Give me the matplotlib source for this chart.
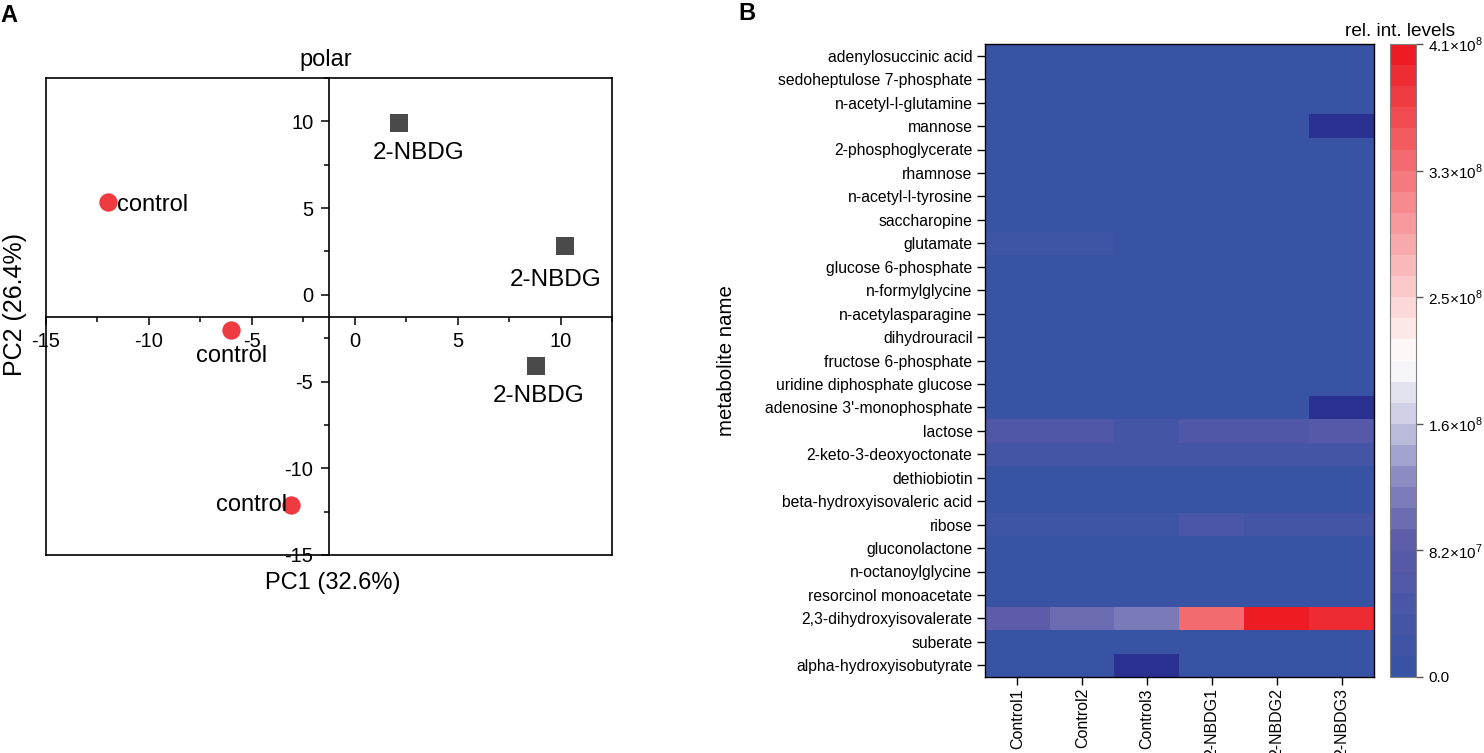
import numpy as np
import matplotlib
matplotlib.use('Agg')
import matplotlib.pyplot as plt
from matplotlib.colors import LinearSegmentedColormap

plt.rcParams['font.family'] = ['Liberation Sans', 'DejaVu Sans']
plt.rcParams['mathtext.fontset'] = 'custom'
plt.rcParams['mathtext.rm'] = 'Liberation Sans'
plt.rcParams['axes.unicode_minus'] = False

# 面板 A 的数据
control_pc1 = [-12.0, -6.0, -3.1]
control_pc2 = [5.35, -2.0, -12.1]
nbdg_pc1 = [2.15, 10.2, 8.8]
nbdg_pc2 = [9.93, 2.83, -4.1]

# 面板 B 的数据，单位 1e8，nan 为缺失值
samples = ['Control1', 'Control2', 'Control3', '2-NBDG1', '2-NBDG2', '2-NBDG3']
metabolites = [
    'adenylosuccinic acid', 'sedoheptulose 7-phosphate', 'n-acetyl-l-glutamine',
    'mannose', '2-phosphoglycerate', 'rhamnose', 'n-acetyl-l-tyrosine',
    'saccharopine', 'glutamate', 'glucose 6-phosphate', 'n-formylglycine',
    'n-acetylasparagine', 'dihydrouracil', 'fructose 6-phosphate',
    'uridine diphosphate glucose', "adenosine 3'-monophosphate", 'lactose',
    '2-keto-3-deoxyoctonate', 'dethiobiotin', 'beta-hydroxyisovaleric acid',
    'ribose', 'gluconolactone', 'n-octanoylglycine', 'resorcinol monoacetate',
    '2,3-dihydroxyisovalerate', 'suberate', 'alpha-hydroxyisobutyrate',
]
levels = [
    [0.01, 0.01, 0.01, 0.01, 0.01, 0.01],
    [0.02, 0.02, 0.02, 0.02, 0.02, 0.02],
    [0.01, 0.01, 0.01, 0.02, 0.02, 0.02],
    [0.02, 0.02, 0.02, 0.02, 0.02, np.nan],
    [0.01, 0.01, 0.01, 0.01, 0.01, 0.01],
    [0.02, 0.02, 0.02, 0.02, 0.02, 0.02],
    [0.01, 0.01, 0.01, 0.01, 0.01, 0.01],
    [0.02, 0.02, 0.02, 0.02, 0.02, 0.02],
    [0.16, 0.16, 0.05, 0.05, 0.05, 0.05],
    [0.02, 0.02, 0.02, 0.02, 0.02, 0.02],
    [0.01, 0.01, 0.01, 0.01, 0.01, 0.01],
    [0.01, 0.01, 0.01, 0.01, 0.01, 0.01],
    [0.02, 0.02, 0.02, 0.02, 0.02, 0.02],
    [0.02, 0.02, 0.02, 0.02, 0.02, 0.02],
    [0.02, 0.02, 0.02, 0.02, 0.02, 0.02],
    [0.03, 0.03, 0.03, 0.03, 0.03, np.nan],
    [0.55, 0.55, 0.40, 0.55, 0.55, 0.70],
    [0.30, 0.30, 0.30, 0.40, 0.40, 0.40],
    [0.03, 0.03, 0.03, 0.03, 0.03, 0.03],
    [0.02, 0.02, 0.02, 0.02, 0.02, 0.02],
    [0.16, 0.16, 0.16, 0.50, 0.40, 0.30],
    [0.02, 0.02, 0.02, 0.02, 0.02, 0.02],
    [0.01, 0.01, 0.01, 0.01, 0.01, 0.01],
    [0.02, 0.02, 0.02, 0.02, 0.02, 0.02],
    [0.85, 1.00, 1.15, 3.35, 4.05, 3.85],
    [0.02, 0.02, 0.02, 0.02, 0.02, 0.02],
    [0.02, 0.02, np.nan, 0.02, 0.02, 0.02],
]
cbar_ticks = [0.0, 0.82, 1.64, 2.46, 3.28, 4.1]
cbar_labels = ['0.0', r'8.2×10$^{7}$', r'1.6×10$^{8}$', r'2.5×10$^{8}$',
               r'3.3×10$^{8}$', r'4.1×10$^{8}$']

W, H = 1484, 753
fig = plt.figure(figsize=(W / 100, H / 100), dpi=100)


def px_axes(x0, y0, x1, y1):
    # 用像素坐标建坐标轴（原点在左上角）
    return fig.add_axes([x0 / W, 1 - y1 / H, (x1 - x0) / W, (y1 - y0) / H])


# 面板 A：PCA
ax = px_axes(46, 78, 612, 555)
ax.set_xlim(-15, 12.5)
ax.set_ylim(-15, 12.5)
ax.spines['left'].set_position(('data', -1.27))
ax.spines['bottom'].set_position(('data', -1.27))
ax.axvline(-15, color='black', lw=1.2, clip_on=False)
ax.axhline(-15, color='black', lw=1.2, clip_on=False)
for s in ax.spines.values():
    s.set_linewidth(1.2)
ax.set_xticks([-15, -10, -5, 0, 5, 10])
ax.set_xticks([-12.5, -7.5, -2.5, 2.5, 7.5, 12.5], minor=True)
ax.set_yticks([-15, -10, -5, 0, 5, 10])
ax.set_yticks([-12.5, -7.5, -2.5, 2.5, 7.5, 12.5], minor=True)
ax.tick_params(which='major', length=6, width=1.1, labelsize=14.5, pad=5)
ax.tick_params(which='minor', length=3.5, width=1.1)
ax.scatter(control_pc1, control_pc2, s=175, color='#ee3b42', zorder=3, linewidths=0)
ax.scatter(nbdg_pc1, nbdg_pc2, s=165, marker='s', color='#4a4a4a', zorder=3, linewidths=0)
ax.text(-11.55, 5.2, 'control', fontsize=17, ha='left', va='center')
ax.text(-6.0, -3.5, 'control', fontsize=17, ha='center', va='center')
ax.text(-3.3, -12.1, 'control', fontsize=17, ha='right', va='center')
ax.text(3.1, 8.2, '2-NBDG', fontsize=17.5, ha='center', va='center')
ax.text(9.78, 0.85, '2-NBDG', fontsize=17.5, ha='center', va='center')
ax.text(8.93, -5.85, '2-NBDG', fontsize=17.5, ha='center', va='center')

fig.text(326 / W, 1 - 60 / H, 'polar', fontsize=17, ha='center', va='center')
fig.text(333 / W, 1 - 583 / H, 'PC1 (32.6%)', fontsize=17, ha='center', va='center')
fig.text(15 / W, 1 - 304 / H, 'PC2 (26.4%)', fontsize=18, rotation=90, ha='center', va='center')

# 面板 B：热图
cmap = LinearSegmentedColormap.from_list(
    'bwr_steps',
    [(0, '#3953a4'), (0.2, '#5a5aa8'), (0.3, '#8585bf'), (0.4, '#c8c8e2'),
     (0.5, '#ffffff'), (1, '#ed1c24')],
    N=30)
cmap.set_bad('#2b3190')
ax2 = px_axes(985, 44, 1374, 677)
im = ax2.imshow(np.array(levels), cmap=cmap, vmin=0, vmax=4.1, aspect='auto',
                interpolation='nearest')
ax2.set_xticks(range(len(samples)))
ax2.set_xticklabels(samples, rotation=90, fontsize=11.5)
ax2.set_yticks(range(len(metabolites)))
ax2.set_yticklabels(metabolites, fontsize=11.3)
ax2.tick_params(length=6, width=1.0, pad=3)
ax2.tick_params(axis='x', pad=2)
for s in ax2.spines.values():
    s.set_linewidth(1.0)
fig.text(727 / W, 1 - 361 / H, 'metabolite name', fontsize=14.7, rotation=90, ha='center', va='center')

cax = px_axes(1390, 44, 1416, 677)
cb = fig.colorbar(im, cax=cax)
cb.set_ticks(cbar_ticks)
cb.set_ticklabels(cbar_labels)
cb.ax.tick_params(length=5, width=1.0, labelsize=11, pad=4, color='#555555')
cb.outline.set_edgecolor('#808080')
fig.text(1400 / W, 1 - 31 / H, 'rel. int. levels', fontsize=13.7, ha='center', va='center')

fig.text(0 / W, 1 - 15 / H, 'A', fontsize=17, fontweight='bold', ha='left', va='center')
fig.text(738 / W, 1 - 14 / H, 'B', fontsize=17, fontweight='bold', ha='left', va='center')

fig.savefig('out.png', dpi=100)
